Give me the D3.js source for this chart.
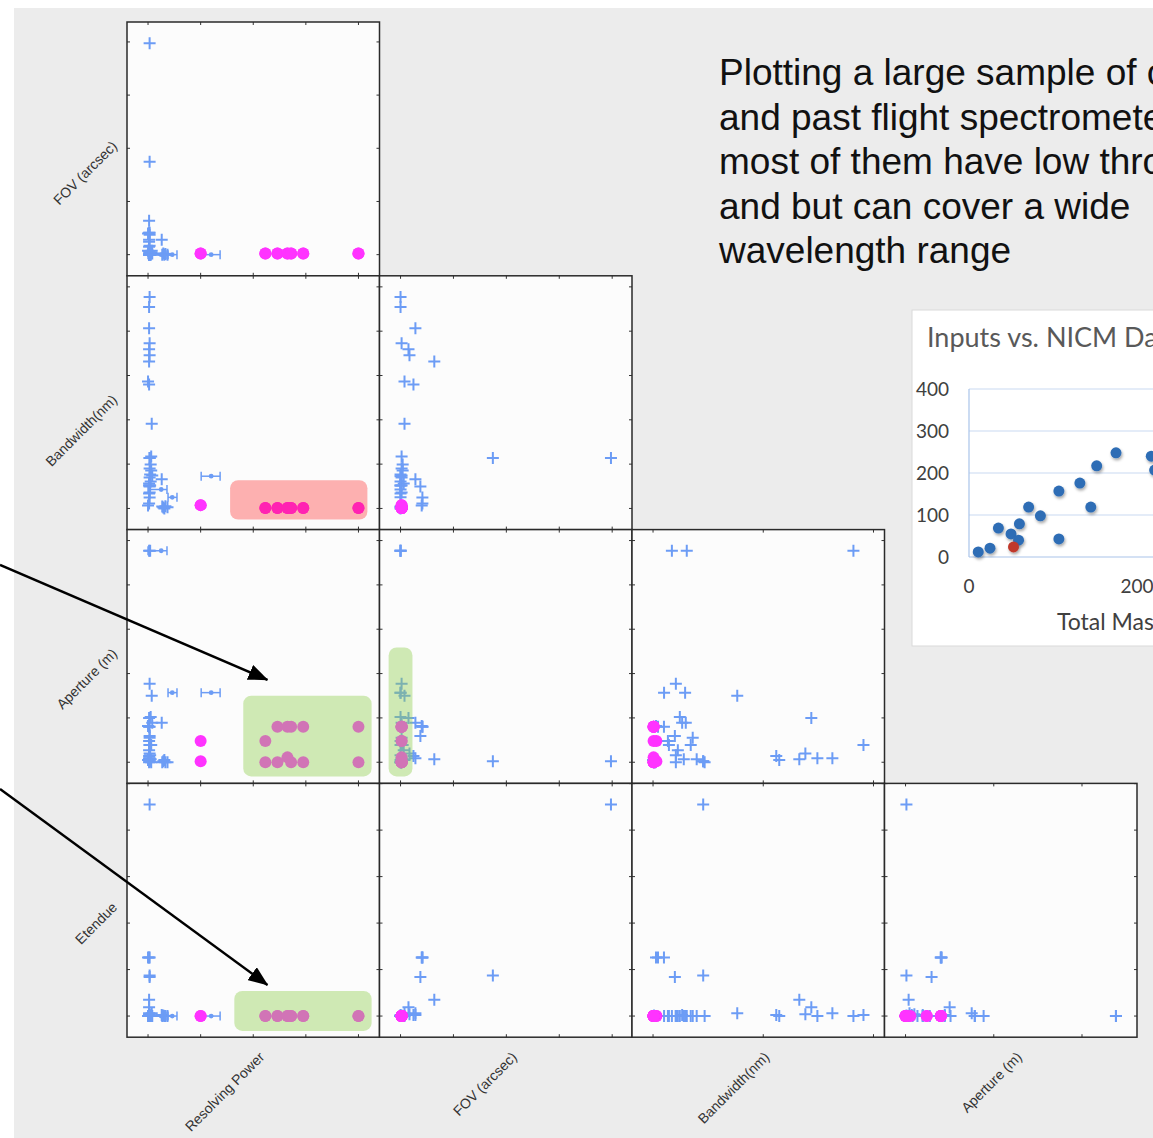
<!DOCTYPE html>
<html>
<head>
<meta charset="utf-8">
<script src="https://cdn.jsdelivr.net/npm/d3@7"></script>
<style>
  body { margin: 0; background: #fff; overflow: hidden; }
  svg { display: block; }
</style>
</head>
<body>
<svg id="chart" width="1153" height="1138"></svg>
<script>
// variables of the scatter matrix, in order
const labels = ["Resolving Power", "FOV (arcsec)", "Bandwidth(nm)", "Aperture (m)", "Etendue"];
const keys = ["res", "fov", "bw", "ap", "et"];

// tick values per variable when used as a column (x) or row (y)
const xTicks = { res: [0, 10000, 20000, 30000, 40000], fov: [0, 1000, 2000, 3000, 4000], bw: [0, 1000, 2000], ap: [0, 2, 4] };
const yTicks = { fov: [0, 1000, 2000, 3000, 4000], bw: [0, 400, 800, 1200, 1600, 2000], ap: [0, 1, 2, 3, 4, 5], et: [0, 1, 2, 3, 4, 5] };

// flight / catalog spectrometers: res, fov, bw, ap, et
const catalog = [
  [300, 3977, 455, 0.02, 4.55],
  [300, 1745, 455, 0.02, 0.87],
  [300, 0, 1909, 0.39, 0.02],
  [200, 0, 1818, 4.77, 0],
  [200, 281, 1627, 0.09, 0.06],
  [300, 20, 1491, 0.09, 0],
  [200, 150, 1436, 1.0, 0.19],
  [300, 169, 1382, 0.2, 0.04],
  [200, 638, 1327, 0.07, 0.35],
  [0, 75, 1145, 0.05, 0],
  [200, 244, 1118, 0.14, 0.02],
  [700, 75, 764, 1.5, 0.06],
  [2600, 281, 264, 0.89, 0.02],
  [300, 375, 198, 0.59, 0.84],
  [300, 413, 99, 0.8, 1.26],
  [200, 413, 45, 0.8, 1.26],
  [0, 400, 27, 0.82, 1.26],
  [400, 0, 306, 4.77, 0],
  [300, 20, 207, 1.77, 0],
  [500, 0, 243, 1.02, 0],
  [800, 20, 297, 0.89, 0],
  [300, 20, 360, 0.55, 0],
  [200, 0, 135, 0.48, 0],
  [600, 40, 342, 0.39, 0],
  [300, 20, 144, 0.39, 0],
  [200, 60, 225, 0.27, 0],
  [400, 0, 207, 0.16, 0],
  [300, 20, 279, 0.07, 0],
  [500, 40, 396, 0.07, 0],
  [600, 20, 468, 0, 0],
  [200, 0, 207, 0, 0],
  [2700, 0, 18, 0, 0],
  [2900, 20, 9, 0.02, 0.01],
  [3100, 0, 0, 0.05, 0],
  [3300, 10, 20, 0, 0],
  [3700, 0, 10, 0, 0]
];

// catalog entries given as a resolving power range: res, resLow, resHigh, fov, bw, ap, et
const catalogRanges = [
  [12000, 10100, 13700, 0, 291, 1.57, 0],
  [4600, 3800, 5500, 0, 100, 1.57, 0],
  [2500, 0, 3600, 0, 171, 4.77, 0]
];

// proposed designs: res, fov, bw, ap, et
const designs = [
  [10000, 20, 30, 0.48, 0], [10000, 20, 30, 0.02, 0],
  [22300, 20, 5, 0.48, 0], [22300, 20, 5, 0, 0],
  [24600, 20, 5, 0.8, 0], [24600, 20, 5, 0, 0],
  [26500, 20, 5, 0.8, 0], [26500, 20, 5, 0.11, 0],
  [27200, 20, 5, 0.8, 0], [27200, 20, 5, 0, 0],
  [29500, 20, 5, 0.8, 0], [29500, 20, 5, 0, 0],
  [40000, 20, 5, 0.8, 0], [40000, 20, 5, 0, 0]
];

// highlighted regions (data units)
const highlights = [
  { row: "bw", col: "res", x: [15600, 41700], y: [-100, 255], kind: "red" },
  { row: "ap", col: "res", x: [18100, 42500], y: [-0.32, 1.5], kind: "green" },
  { row: "ap", col: "fov", x: [-225, 225], y: [-0.32, 2.59], kind: "green" },
  { row: "et", col: "res", x: [16400, 42500], y: [-0.32, 0.54], kind: "green" }
];

// arrow tips (data units)
const arrowTips = [
  { row: "ap", col: "res", x: 22700, y: 1.86 },
  { row: "et", col: "res", x: 22700, y: 0.67 }
];

const textLines = [
  "Plotting a large sample of current",
  "and past flight spectrometers shows",
  "most of them have low throughput",
  "and but can cover a wide",
  "wavelength range"
];

// inset: NICM data
const insetTitle = "Inputs vs. NICM Data";
const nicmMass = [11, 25, 35, 50, 59, 60, 71, 85, 107, 107, 132, 145, 152, 175, 217, 221];
const nicmCost = [12, 21, 69, 55, 40, 79, 119, 98, 157, 43, 176, 119, 217, 248, 240, 207];
const targetMass = [53];
const targetCost = [24];
const insetYTicks = [0, 100, 200, 300, 400];
const insetXTicks = [0, 200, 400];

const svg = d3.select("#chart");
const blue = "#6c9cf5", magenta = "#ff33ff";
const overlay = { red: "rgba(255,0,0,0.3)", green: "rgba(146,208,80,0.42)" };

svg.append("rect").attr("x", 14).attr("y", 8).attr("width", 1139).attr("height", 1130).attr("fill", "#ececec");

// layout of the matrix
const left0 = 127, top0 = 22, W = 252.5, H = 253.8;

// scales: data extent padded by 10% each side
const allRows = catalog.concat(designs);
const scaleDomain = {};
keys.forEach((k, idx) => {
  let vals = allRows.map(r => r[idx]);
  if (k === "res") catalogRanges.forEach(r => vals.push(r[1], r[2]));
  else catalogRanges.forEach(r => vals.push(r[idx + 2]));
  const [lo, hi] = d3.extent(vals);
  const pad = (hi - lo) * 0.1;
  scaleDomain[k] = [lo - pad, hi + pad];
});
const xs = k => d3.scaleLinear().domain(scaleDomain[k]).range([0, W]);
const ys = k => d3.scaleLinear().domain(scaleDomain[k]).range([H, 0]);

const crossPath = "M-6,0H6M0,-6V6";

const panels = {};
for (let i = 0; i < 4; i++) {
  const rk = keys[i + 1];
  for (let j = 0; j <= i; j++) {
    const ck = keys[j];
    const x = xs(ck), y = ys(rk);
    const px = left0 + j * W, py = top0 + i * H;
    panels[rk + "_" + ck] = { px, py, x, y };
    const g = svg.append("g").attr("transform", `translate(${px},${py})`);
    g.append("rect").attr("width", W).attr("height", H).attr("fill", "#fcfcfc");

    // inward ticks on all four sides
    const tg = g.append("g").attr("stroke", "#333").attr("stroke-width", 1);
    xTicks[ck].forEach(t => {
      tg.append("line").attr("x1", x(t)).attr("x2", x(t)).attr("y1", H).attr("y2", H - 3);
      tg.append("line").attr("x1", x(t)).attr("x2", x(t)).attr("y1", 0).attr("y2", 3);
    });
    yTicks[rk].forEach(t => {
      tg.append("line").attr("x1", 0).attr("x2", 3).attr("y1", y(t)).attr("y2", y(t));
      tg.append("line").attr("x1", W).attr("x2", W - 3).attr("y1", y(t)).attr("y2", y(t));
    });

    const ci = keys.indexOf(ck), ri = keys.indexOf(rk);

    // catalog points
    g.append("g").selectAll("path").data(catalog).join("path")
      .attr("d", crossPath)
      .attr("transform", d => `translate(${x(d[ci])},${y(d[ri])})`)
      .attr("stroke", blue).attr("stroke-width", 2).attr("fill", "none");

    // catalog points with a resolving power range
    const rg = g.append("g").attr("stroke", blue).attr("stroke-width", 1.5).attr("fill", blue);
    catalogRanges.forEach(d => {
      const rowVal = ri === 0 ? d[0] : d[ri + 2];
      const colVal = ci === 0 ? d[0] : d[ci + 2];
      const cy = y(rowVal), cx = x(colVal);
      if (ci === 0) {
        const a = x(d[1]), b = x(d[2]);
        rg.append("line").attr("x1", a).attr("x2", b).attr("y1", cy).attr("y2", cy);
        rg.append("line").attr("x1", a).attr("x2", a).attr("y1", cy - 4.5).attr("y2", cy + 4.5);
        rg.append("line").attr("x1", b).attr("x2", b).attr("y1", cy - 4.5).attr("y2", cy + 4.5);
        rg.append("circle").attr("cx", cx).attr("cy", cy).attr("r", 2.4).attr("stroke", "none");
      } else {
        rg.append("path").attr("d", crossPath).attr("transform", `translate(${cx},${cy})`).attr("fill", "none").attr("stroke-width", 2);
      }
    });

    // proposed designs
    g.append("g").selectAll("circle").data(designs).join("circle")
      .attr("cx", d => x(d[ci])).attr("cy", d => y(d[ri])).attr("r", 6)
      .attr("fill", magenta);

    g.append("rect").attr("width", W).attr("height", H).attr("fill", "none")
      .attr("stroke", "#2a2a2a").attr("stroke-width", 1.5);
  }
}

// highlight overlays
highlights.forEach(h => {
  const p = panels[h.row + "_" + h.col];
  svg.append("rect")
    .attr("x", p.px + p.x(h.x[0])).attr("y", p.py + p.y(h.y[1]))
    .attr("width", p.x(h.x[1]) - p.x(h.x[0])).attr("height", p.y(h.y[0]) - p.y(h.y[1]))
    .attr("rx", 8).attr("fill", overlay[h.kind]);
});

// axis labels
const lbl = svg.append("g").attr("font-family", "Liberation Sans, Arial, sans-serif")
  .attr("font-size", 14).attr("fill", "#333").attr("text-anchor", "end");
for (let i = 0; i < 4; i++) {
  const cy = top0 + i * H + H / 2 - 2;
  lbl.append("text").attr("transform", `translate(118,${cy}) rotate(-45)`).text(labels[i + 1]);
  const cx = left0 + i * W + W / 2 + 12;
  lbl.append("text").attr("transform", `translate(${cx},1058) rotate(-45)`).text(labels[i]);
}

// arrows
const defs = svg.append("defs");
defs.append("marker").attr("id", "head").attr("markerUnits", "userSpaceOnUse")
  .attr("viewBox", "0 0 20 16").attr("refX", 19).attr("refY", 8)
  .attr("markerWidth", 20).attr("markerHeight", 16).attr("orient", "auto")
  .append("path").attr("d", "M0,0L20,8L0,16Z").attr("fill", "#000");
const arrowStarts = [[0, 565], [0, 789]];
arrowTips.forEach((a, k) => {
  const p = panels[a.row + "_" + a.col];
  svg.append("line")
    .attr("x1", arrowStarts[k][0]).attr("y1", arrowStarts[k][1])
    .attr("x2", p.px + p.x(a.x)).attr("y2", p.py + p.y(a.y))
    .attr("stroke", "#000").attr("stroke-width", 2.5).attr("marker-end", "url(#head)");
});

// text block
const tb = svg.append("text").attr("font-family", "Liberation Sans, Arial, sans-serif")
  .attr("font-size", 37).attr("fill", "#111");
textLines.forEach((t, k) => tb.append("tspan").attr("x", 719).attr("y", 85 + k * 44.5).text(t));

// inset chart
const inset = svg.append("g");
defs.append("filter").attr("id", "shadow").attr("x", "-50%").attr("y", "-50%").attr("width", "200%").attr("height", "200%")
  .append("feDropShadow").attr("dx", 1).attr("dy", 2).attr("stdDeviation", 1.5).attr("flood-opacity", 0.35);
inset.append("rect").attr("x", 912).attr("y", 310).attr("width", 260).attr("height", 336)
  .attr("fill", "#fff").attr("stroke", "#d9d9d9");
const ix = d3.scaleLinear().domain([0, 200]).range([969, 1137]);
const iy = d3.scaleLinear().domain([0, 400]).range([557, 389]);
inset.append("text").attr("x", 927).attr("y", 347).attr("font-family", "Lato, sans-serif")
  .attr("font-size", 27).attr("fill", "#595959").text(insetTitle);
insetYTicks.forEach(t => {
  inset.append("line").attr("x1", 969).attr("x2", 1200).attr("y1", iy(t)).attr("y2", iy(t))
    .attr("stroke", t === 0 ? "#a9c4ea" : "#c9daf2").attr("stroke-width", 1.2);
  inset.append("text").attr("x", 949).attr("y", iy(t)).attr("dy", "0.35em").attr("text-anchor", "end")
    .attr("font-family", "Lato, sans-serif").attr("font-size", 19).attr("fill", "#404040").text(t);
});
inset.append("line").attr("x1", 969).attr("x2", 969).attr("y1", iy(400)).attr("y2", iy(0))
  .attr("stroke", "#a9c4ea").attr("stroke-width", 1.2);
insetXTicks.forEach(t => {
  inset.append("text").attr("x", ix(t)).attr("y", 593).attr("text-anchor", "middle")
    .attr("font-family", "Lato, sans-serif").attr("font-size", 19).attr("fill", "#404040").text(t);
});
inset.append("text").attr("x", 1057).attr("y", 630).attr("font-family", "Lato, sans-serif")
  .attr("font-size", 23).attr("fill", "#404040").text("Total Mass (kg)");
inset.append("g").selectAll("circle").data(nicmMass).join("circle")
  .attr("cx", d => ix(d)).attr("cy", (d, k) => iy(nicmCost[k])).attr("r", 5.5)
  .attr("fill", "#2f6db5").attr("filter", "url(#shadow)");
inset.append("g").selectAll("circle").data(targetMass).join("circle")
  .attr("cx", d => ix(d)).attr("cy", (d, k) => iy(targetCost[k])).attr("r", 5.5)
  .attr("fill", "#c0392b").attr("filter", "url(#shadow)");
</script>
</body>
</html>
